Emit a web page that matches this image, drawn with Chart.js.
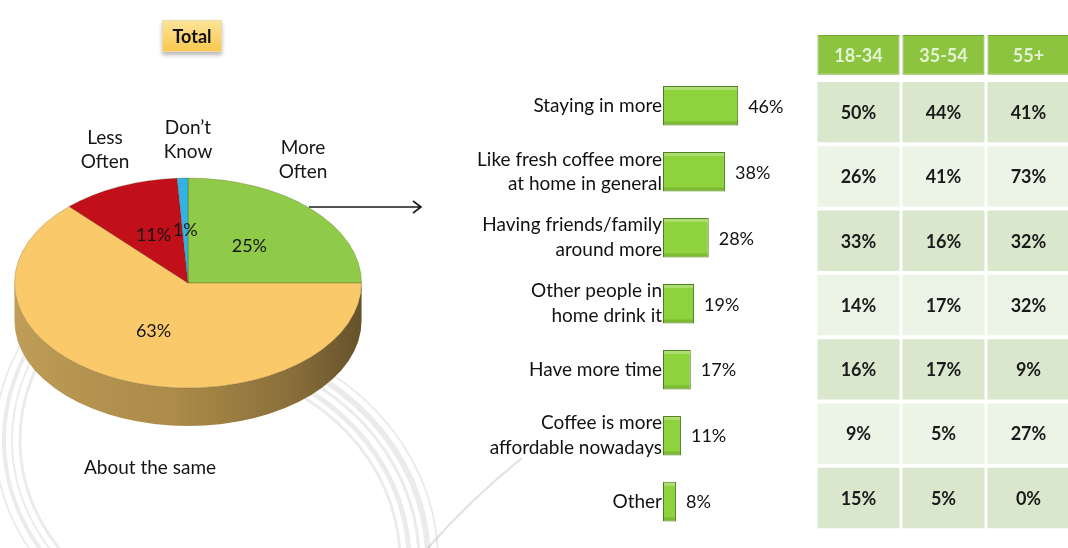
<!DOCTYPE html>
<html>
<head>
<meta charset="utf-8">
<script src="https://cdn.jsdelivr.net/npm/chart.js@4.4.1/dist/chart.umd.min.js"></script>
<style>
  html, body { margin: 0; padding: 0; background: #ffffff; }
  #stage { position: relative; width: 1068px; height: 548px; overflow: hidden; background: #ffffff; }
  canvas { position: absolute; top: 0; }
  #pie { left: 0; }
  #bars { left: 430px; }
  #grid { left: 816px; }
  #total {
    position: absolute; left: 162px; top: 20px; width: 60px; height: 32px;
    box-sizing: border-box; border: 1px solid #eadbb0;
    background: linear-gradient(#fde497, #f8c850);
    box-shadow: 0 3px 4px rgba(0,0,0,0.28);
    font: bold 18px Lato, "Open Sans", sans-serif; color: #111;
    text-align: center; line-height: 30px;
  }
</style>
</head>
<body>
<div id="stage">
  <canvas id="pie" width="600" height="548"></canvas>
  <canvas id="bars" width="380" height="548"></canvas>
  <canvas id="grid" width="255" height="548"></canvas>
  <div id="total">Total</div>
</div>
<script>
// ---- Frequency of drinking fresh coffee at home (total) ----
const pieLabels = [['More', 'Often'], ['About the same'], ['Less', 'Often'], ['Don\u2019t', 'Know']];
const pieValues = [25, 63, 11, 1];
const pieColors = ['#8fcb48', '#f9c96a', '#c2101a', '#33b3e3'];

// ---- Reasons for drinking more at home ----
const reasonLabels = [
  ['Staying in more'],
  ['Like fresh coffee more', 'at home in general'],
  ['Having friends/family', 'around more'],
  ['Other people in', 'home drink it'],
  ['Have more time'],
  ['Coffee is more', 'affordable nowadays'],
  ['Other']
];
const reasonTotals = [46, 38, 28, 19, 17, 11, 8];

// ---- Reasons split by age group ----
const ageGroups = ['18-34', '35-54', '55+'];
const age18to34 = [50, 26, 33, 14, 16, 9, 15];
const age35to54 = [44, 41, 16, 17, 17, 5, 5];
const age55plus = [41, 73, 32, 32, 9, 27, 0];

const FONT = 'Lato, "Open Sans", sans-serif';
Chart.defaults.font.family = FONT;
Chart.defaults.color = '#111111';

function shade(hex, f) {
  const n = parseInt(hex.slice(1), 16);
  const r = Math.round(((n >> 16) & 255) * f);
  const g = Math.round(((n >> 8) & 255) * f);
  const b = Math.round((n & 255) * f);
  return `rgb(${r},${g},${b})`;
}

// faint swirl artwork in the page background
const swirl = {
  id: 'swirl',
  beforeDraw(chart) {
    const ctx = chart.ctx;
    ctx.save();
    ctx.strokeStyle = 'rgba(0,0,0,0.08)';
    [[205, 3], [213, 2], [221, 4], [230, 2]].forEach(([rx, w]) => {
      ctx.lineWidth = w;
      ctx.beginPath();
      ctx.ellipse(225, 440, rx, rx * 0.9, 0, 0.6 * Math.PI, 1.2 * Math.PI);
      ctx.stroke();
    });
    [[230, 3], [239, 5], [249, 3], [258, 6], [268, 2]].forEach(([rx, w]) => {
      ctx.lineWidth = w;
      ctx.beginPath();
      ctx.ellipse(170, 560, rx, rx * 0.87, 0, -1.15, 0.1);
      ctx.stroke();
    });
    ctx.strokeStyle = 'rgba(0,0,0,0.12)';
    ctx.lineWidth = 2;
    ctx.beginPath();
    ctx.moveTo(522, 458);
    ctx.quadraticCurveTo(470, 500, 428, 548);
    ctx.stroke();
    ctx.restore();
  }
};

// tilted pie with a front wall, labels and a call-out arrow
const pie3d = {
  id: 'pie3d',
  beforeDatasetsDraw(chart, args, opts) {
    const ctx = chart.ctx;
    const arcs = chart.getDatasetMeta(0).data;
    const { x: cx, y: cy, outerRadius: R } = arcs[0].getProps(['x', 'y', 'outerRadius'], true);
    const k = opts.tilt, d = opts.depth;
    ctx.save();
    arcs.forEach((arc, i) => {
      const { startAngle, endAngle } = arc.getProps(['startAngle', 'endAngle'], true);
      [0, 2 * Math.PI, -2 * Math.PI].forEach(off => {
        const s = Math.max(startAngle - off, 0);
        const e = Math.min(endAngle - off, Math.PI);
        if (e <= s) return;
        ctx.beginPath();
        ctx.ellipse(cx, cy, R, R * k, 0, s, e, false);
        ctx.ellipse(cx, cy + d, R, R * k, 0, e, s, true);
        ctx.closePath();
        ctx.fillStyle = shade(pieColors[i], 0.74);
        ctx.fill();
      });
    });
    // light from the left, falling off to the right
    const g = ctx.createLinearGradient(cx - R, 0, cx + R, 0);
    g.addColorStop(0, 'rgba(255,235,180,0.10)');
    g.addColorStop(0.45, 'rgba(0,0,0,0.06)');
    g.addColorStop(0.8, 'rgba(0,0,0,0.26)');
    g.addColorStop(1, 'rgba(0,0,0,0.45)');
    ctx.beginPath();
    ctx.ellipse(cx, cy, R, R * k, 0, 0, Math.PI, false);
    ctx.ellipse(cx, cy + d, R, R * k, 0, Math.PI, 0, true);
    ctx.closePath();
    ctx.fillStyle = g;
    ctx.fill();
    ctx.restore();
    // squash the top face
    ctx.save();
    ctx.translate(cx, cy);
    ctx.scale(1, k);
    ctx.translate(-cx, -cy);
  },
  afterDatasetsDraw(chart, args, opts) {
    const ctx = chart.ctx;
    ctx.restore();
    const arcs = chart.getDatasetMeta(0).data;
    const { x: cx, y: cy, outerRadius: R } = arcs[0].getProps(['x', 'y', 'outerRadius'], true);
    const k = opts.tilt;
    ctx.save();
    ctx.textAlign = 'center';
    ctx.textBaseline = 'middle';
    ctx.fillStyle = '#151515';
    ctx.font = '18px ' + FONT;
    arcs.forEach((arc, i) => {
      const { startAngle, endAngle } = arc.getProps(['startAngle', 'endAngle'], true);
      const mid = (startAngle + endAngle) / 2;
      const r = R * 0.5;
      ctx.fillText(pieValues[i] + '%', cx + Math.cos(mid) * r, cy + Math.sin(mid) * r * k);
    });
    ctx.font = '19px ' + FONT;
    pieLabels.forEach((lines, i) => {
      const [dx, dy] = opts.labelOffsets[i];
      lines.forEach((t, j) => {
        ctx.fillText(t, cx + dx, cy + dy + (j - (lines.length - 1) / 2) * 24);
      });
    });
    // arrow pointing to the reasons chart
    const a = opts.arrow;
    ctx.strokeStyle = '#1a1a1a';
    ctx.lineWidth = 1.6;
    ctx.beginPath();
    ctx.moveTo(a.x0, a.y);
    ctx.lineTo(a.x1, a.y);
    ctx.moveTo(a.x1 - 8, a.y - 6);
    ctx.lineTo(a.x1, a.y);
    ctx.lineTo(a.x1 - 8, a.y + 6);
    ctx.stroke();
    ctx.restore();
  }
};

new Chart(document.getElementById('pie'), {
  type: 'pie',
  data: {
    labels: pieLabels.map(l => l.join(' ')),
    datasets: [{
      data: pieValues,
      backgroundColor: pieColors,
      borderColor: 'rgba(70,45,0,0.3)',
      borderWidth: 1
    }]
  },
  options: {
    responsive: false,
    animation: false,
    events: [],
    layout: { padding: { left: 14, right: 238, top: 109, bottom: 91 } },
    plugins: {
      legend: { display: false },
      tooltip: { enabled: false },
      pie3d: {
        tilt: 0.605,
        depth: 38,
        labelOffsets: [[115, -123], [-38, 185], [-83, -133], [0, -143]],
        arrow: { x0: 309, x1: 421, y: 207 }
      }
    }
  },
  plugins: [swirl, pie3d]
});

// percentage next to each reason bar, plus a soft top highlight on the bars
const barValues = {
  id: 'barValues',
  afterDatasetsDraw(chart) {
    const ctx = chart.ctx;
    ctx.save();
    chart.getDatasetMeta(0).data.forEach((bar) => {
      const { x, y, base, height } = bar.getProps(['x', 'y', 'base', 'height'], true);
      const top = y - height / 2;
      ctx.fillStyle = 'rgba(255,255,255,0.28)';
      ctx.fillRect(base + 1, top + 1, x - base - 2, 3);
      ctx.fillStyle = 'rgba(40,80,0,0.18)';
      ctx.fillRect(base + 1, top + height - 4, x - base - 2, 3);
    });
    ctx.font = '18px ' + FONT;
    ctx.fillStyle = '#111111';
    ctx.textAlign = 'left';
    ctx.textBaseline = 'middle';
    chart.getDatasetMeta(0).data.forEach((bar, i) => {
      ctx.fillText(reasonTotals[i] + '%', bar.x + 10, bar.y + 1);
    });
    ctx.restore();
  }
};

new Chart(document.getElementById('bars'), {
  type: 'bar',
  data: {
    labels: reasonLabels,
    datasets: [{
      data: reasonTotals,
      backgroundColor: '#8ed23d',
      borderColor: '#4f7f1d',
      borderWidth: 1,
      borderSkipped: false,
      categoryPercentage: 0.6,
      barPercentage: 1
    }]
  },
  options: {
    indexAxis: 'y',
    responsive: false,
    animation: false,
    events: [],
    layout: { padding: { top: 72.75, bottom: 9.25, left: 0, right: 0 } },
    scales: {
      x: { display: false, min: 0, max: 90 },
      y: {
        grid: { display: false, drawTicks: false },
        border: { display: false },
        ticks: { autoSkip: false, padding: 1, color: '#111111', font: { size: 19, lineHeight: 1.3 } },
        afterFit(scale) { scale.width = 233; }
      }
    },
    plugins: { legend: { display: false }, tooltip: { enabled: false } }
  },
  plugins: [barValues]
});

// age-group table: one floating bar per cell, header row first
const ageColumns = [age18to34, age35to54, age55plus];
const rowCount = reasonTotals.length;
const gridDatasets = [{
  data: ageGroups.map(() => [-0.70, -0.08]),
  backgroundColor: '#8cc43f',
  borderColor: '#74aa2e',
  borderWidth: 1
}];
for (let i = 0; i < rowCount; i++) {
  gridDatasets.push({
    data: ageGroups.map(() => [i + 0.03, i + 0.97]),
    backgroundColor: i % 2 === 0 ? '#d9e8cd' : '#ecf4e6',
    borderWidth: 0
  });
}

const cellText = {
  id: 'cellText',
  afterDatasetsDraw(chart) {
    const ctx = chart.ctx;
    ctx.save();
    ctx.textAlign = 'center';
    ctx.textBaseline = 'middle';
    chart.data.datasets.forEach((ds, di) => {
      chart.getDatasetMeta(di).data.forEach((cell, j) => {
        const yMid = (cell.y + cell.base) / 2;
        ctx.font = 'bold 18px ' + FONT;
        if (di === 0) {
          ctx.fillStyle = '#e4f3d4';
          ctx.fillText(ageGroups[j], cell.x, yMid + 1);
        } else {
          ctx.fillStyle = '#1a1a1a';
          ctx.fillText(ageColumns[j][di - 1] + '%', cell.x, yMid + 1);
        }
      });
    });
    ctx.restore();
  }
};

new Chart(document.getElementById('grid'), {
  type: 'bar',
  data: { labels: ageGroups, datasets: gridDatasets },
  options: {
    responsive: false,
    animation: false,
    events: [],
    layout: { padding: 0 },
    datasets: { bar: { grouped: false, barPercentage: 0.965, categoryPercentage: 1, borderSkipped: false } },
    scales: {
      x: { display: false, offset: true },
      y: { display: false, reverse: true, min: -1.244, max: 7.278 }
    },
    plugins: { legend: { display: false }, tooltip: { enabled: false } }
  },
  plugins: [cellText]
});
</script>
</body>
</html>
